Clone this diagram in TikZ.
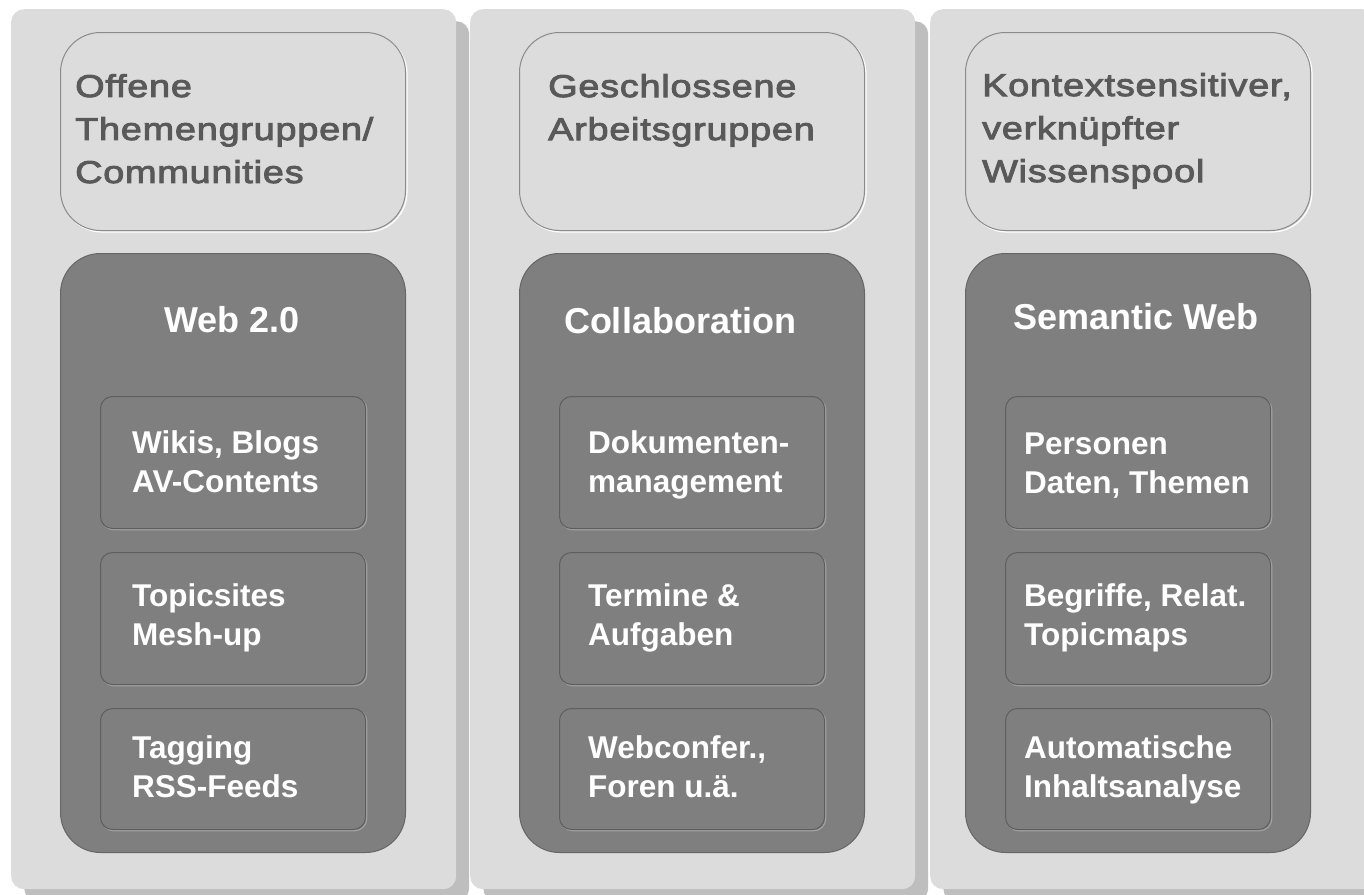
\documentclass[tikz,border=0pt]{standalone}
\usepackage{fontspec}
\setmainfont{Liberation Sans}
\newfontfamily\widesans[FakeStretch=1.2,LetterSpace=2.5,FakeBold=3]{Liberation Sans}
\definecolor{panelgray}{HTML}{DCDCDC}
\definecolor{shadowgray}{HTML}{BEBEBE}
\definecolor{boxgray}{HTML}{7F7F7F}
\definecolor{edgegray}{HTML}{8A8A8A}
\definecolor{innerdark}{HTML}{5E5E5E}
\definecolor{innerlight}{HTML}{A2A2A2}
\definecolor{headgray}{HTML}{595959}
\begin{document}
\begin{tikzpicture}[x=1pt,y=-1pt,
	panel/.style={fill=panelgray,rounded corners=13pt,minimum width=445pt,minimum height=880pt,anchor=north west,inner sep=0pt},
	shadow/.style={panel,fill=shadowgray},
	topbox/.style={fill=panelgray,draw=edgegray,line width=1pt,rounded corners=40pt,minimum width=345pt,minimum height=198pt,anchor=north west,inner sep=0pt,
		preaction={draw=white,line width=1.2pt,transform canvas={shift={(1.5pt,-1.5pt)}}}},
	darkbox/.style={fill=boxgray,draw=boxgray!80!black,line width=1pt,rounded corners=40pt,minimum width=345pt,minimum height=599pt,anchor=north west,inner sep=0pt},
	itembox/.style={fill=boxgray,draw=innerdark,line width=1pt,rounded corners=12pt,minimum width=265pt,anchor=north west,inner sep=0pt,
		preaction={draw=innerlight,line width=1.2pt,transform canvas={shift={(1.2pt,-1.2pt)}}}},
	headtext/.style={anchor=north west,inner sep=0pt,align=left,text=headgray,font=\widesans\fontsize{31.5}{43}\selectfont},
	titletext/.style={anchor=base,inner sep=0pt,text=white,font=\fontsize{36}{40}\selectfont\bfseries},
	itemtext/.style={anchor=north west,inner sep=0pt,align=left,text=white,font=\fontsize{31.5}{39}\selectfont\bfseries}]
	\fill[white] (0,0) rectangle (1364,894);
	\useasboundingbox (0,0) rectangle (1364,894);
	\node[shadow] (s1) at (24,21) {};
	\node[shadow] (s2) at (483,21) {};
	\node[shadow] (s3) at (943,21) {};
	\node[panel] (p1) at (11,9) {};
	\node[panel] (p2) at (470,9) {};
	\node[panel] (p3) at (930,9) {};

	\node[topbox] (top1) at (60,32) {};
	\node[headtext] (head1) at (75,74) {Offene\\Themengruppen/\\Communities};
	\node[darkbox] (dark1) at (60,253) {};
	\node[titletext] (title1) at (232,332) {Web 2.0};
	\node[itembox,minimum height=132pt] (item1a) at (100,396) {};
	\node[itembox,minimum height=132pt] (item1b) at (100,552) {};
	\node[itembox,minimum height=121pt] (item1c) at (100,708) {};
	\node[itemtext] at (132,430) {Wikis, Blogs\\AV-Contents};
	\node[itemtext] at (132,583) {Topicsites\\Mesh-up};
	\node[itemtext] at (132,735) {Tagging\\RSS-Feeds};

	\node[topbox] (top2) at (519,32) {};
	\node[headtext] (head2) at (548,74) {Geschlossene\\Arbeitsgruppen};
	\node[darkbox] (dark2) at (519,253) {};
	\node[titletext] (title2) at (680,333) {Collaboration};
	\node[itembox,minimum height=132pt] (item2a) at (559,396) {};
	\node[itembox,minimum height=132pt] (item2b) at (559,552) {};
	\node[itembox,minimum height=121pt] (item2c) at (559,708) {};
	\node[itemtext] at (588,430) {Dokumenten-\\management};
	\node[itemtext] at (588,583) {Termine \&\\Aufgaben};
	\node[itemtext] at (588,735) {Webconfer.,\\Foren u.ä.};

	\node[topbox] (top3) at (965,32) {};
	\node[headtext] (head3) at (982,73) {Kontextsensitiver,\\verknüpfter\\Wissenspool};
	\node[darkbox] (dark3) at (965,253) {};
	\node[titletext] (title3) at (1136,329) {Semantic Web};
	\node[itembox,minimum height=132pt] (item3a) at (1005,396) {};
	\node[itembox,minimum height=132pt] (item3b) at (1005,552) {};
	\node[itembox,minimum height=121pt] (item3c) at (1005,708) {};
	\node[itemtext] at (1024,433) {Personen\\Daten, Themen};
	\node[itemtext] at (1024,583) {Begriffe, Relat.\\Topicmaps};
	\node[itemtext] at (1024,735) {Automatische\\Inhaltsanalyse};
\end{tikzpicture}
\end{document}
